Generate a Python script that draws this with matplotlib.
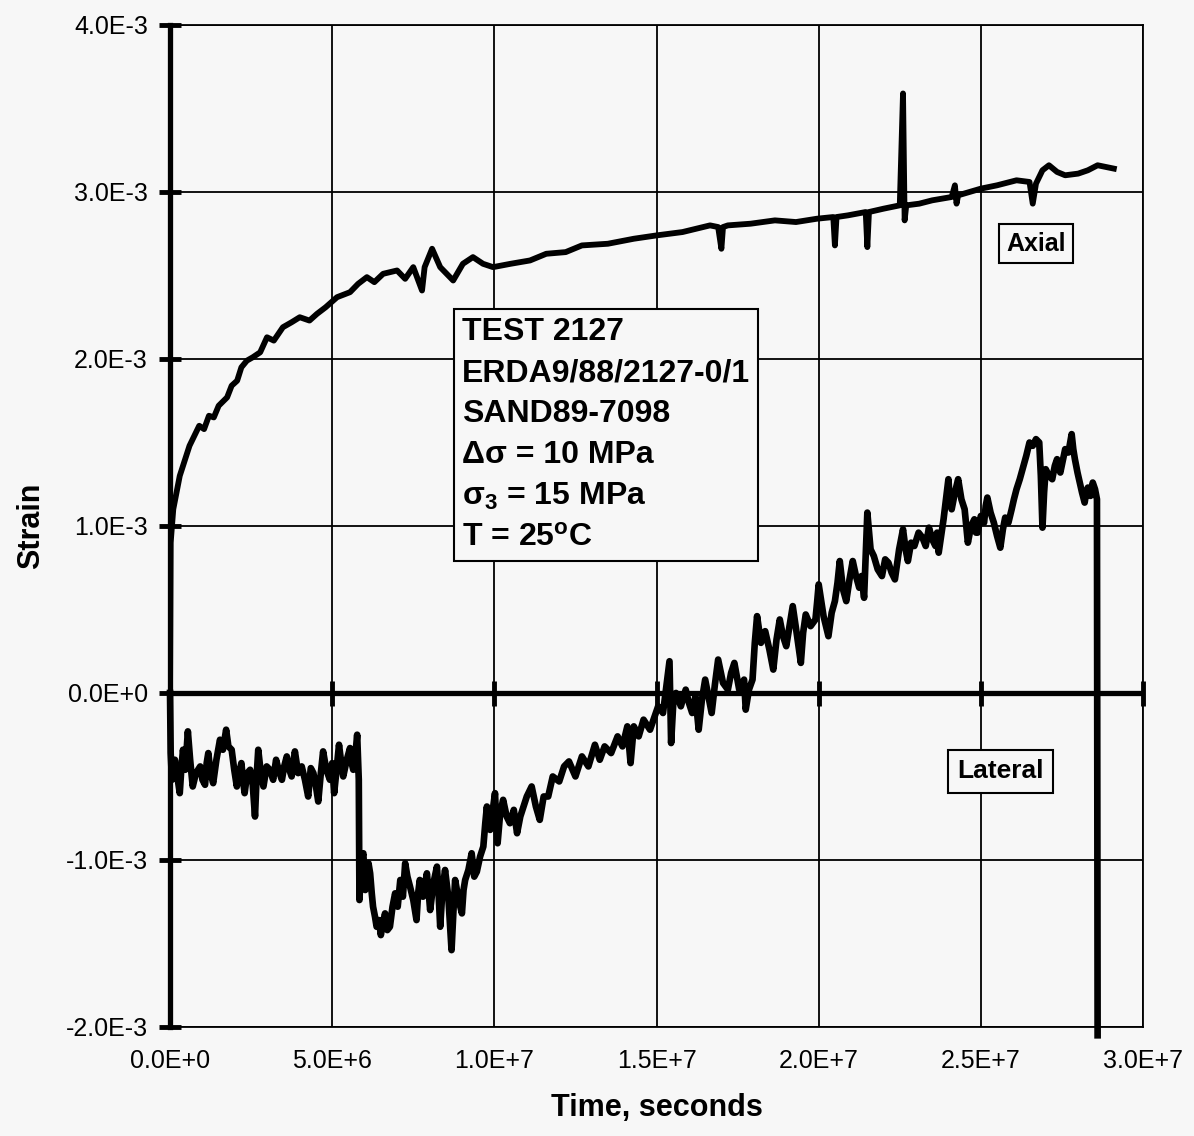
import numpy as np
import matplotlib.pyplot as plt

plt.rcParams['font.family'] = ['Liberation Sans', 'DejaVu Sans']
plt.rcParams['mathtext.fontset'] = 'custom'
plt.rcParams['mathtext.rm'] = 'Liberation Sans:bold'
plt.rcParams['mathtext.it'] = 'Liberation Sans:italic:bold'
plt.rcParams['mathtext.bf'] = 'Liberation Sans:bold'

# axial strain record: (time [1e6 s], strain [1e-3])
axial_pts = [
    (0.0, 0.0), (0.02, 0.90), (0.1, 1.10), (0.3, 1.30), (0.6, 1.48), (0.9, 1.60),
    (1.05, 1.58), (1.2, 1.66), (1.35, 1.65), (1.5, 1.72), (1.76, 1.77), (1.9, 1.84),
    (2.07, 1.87), (2.2, 1.95), (2.37, 1.99), (2.55, 2.01), (2.78, 2.04),
    (2.99, 2.13), (3.2, 2.11), (3.48, 2.19), (3.75, 2.22), (4.0, 2.25), (4.3, 2.23),
    (4.53, 2.27), (4.8, 2.31), (5.15, 2.37), (5.55, 2.40), (5.8, 2.45), (6.07, 2.49),
    (6.3, 2.46), (6.57, 2.51), (7.0, 2.53), (7.25, 2.48), (7.5, 2.55), (7.77, 2.41),
    (7.85, 2.55), (8.08, 2.66), (8.33, 2.55), (8.73, 2.47), (9.03, 2.57), (9.34, 2.61),
    (9.65, 2.57), (9.96, 2.55), (10.5, 2.57), (11.1, 2.59), (11.6, 2.63), (12.2, 2.64),
    (12.7, 2.68), (13.5, 2.69), (14.3, 2.72), (15.0, 2.74), (15.8, 2.76), (16.65, 2.80),
    (16.9, 2.79), (17.0, 2.66), (17.05, 2.79), (17.2, 2.80), (17.9, 2.81), (18.65, 2.83),
    (19.3, 2.82), (19.95, 2.84), (20.45, 2.85), (20.5, 2.68), (20.55, 2.85), (20.9, 2.86),
    (21.45, 2.88), (21.5, 2.67), (21.55, 2.88), (22.0, 2.90), (22.5, 2.92), (22.6, 3.59),
    (22.65, 2.83), (22.7, 2.92), (23.1, 2.93), (23.5, 2.95), (24.1, 2.97), (24.2, 3.04),
    (24.25, 2.93), (24.3, 2.98), (25.0, 3.02), (25.5, 3.04), (26.1, 3.07), (26.5, 3.06),
    (26.6, 2.93), (26.7, 3.05), (26.9, 3.13), (27.1, 3.16), (27.35, 3.12), (27.6, 3.10),
    (28.0, 3.11), (28.3, 3.13), (28.6, 3.16), (29.1, 3.14),
]

# lateral strain record: (time [1e6 s], strain [1e-3])
lateral_pts = [
    (0.0, 0.0), (0.02, -0.36), (0.06, -0.52), (0.15, -0.40), (0.3, -0.60), (0.35, -0.45),
    (0.4, -0.34), (0.47, -0.46), (0.55, -0.23), (0.62, -0.40), (0.7, -0.56), (0.8, -0.48),
    (0.93, -0.44), (1.0, -0.52), (1.08, -0.55), (1.13, -0.42), (1.18, -0.36), (1.25, -0.48),
    (1.33, -0.54), (1.43, -0.40), (1.54, -0.28), (1.63, -0.34), (1.73, -0.22), (1.8, -0.32),
    (1.9, -0.34), (1.98, -0.46), (2.06, -0.56), (2.13, -0.48), (2.2, -0.42), (2.25, -0.52),
    (2.3, -0.60), (2.38, -0.48), (2.47, -0.46), (2.55, -0.55), (2.62, -0.74), (2.67, -0.50),
    (2.72, -0.34), (2.8, -0.48), (2.88, -0.56), (2.98, -0.44), (3.08, -0.46), (3.18, -0.52),
    (3.27, -0.40), (3.36, -0.47), (3.45, -0.52), (3.52, -0.44), (3.6, -0.38), (3.68, -0.46),
    (3.75, -0.50), (3.8, -0.42), (3.85, -0.35), (3.95, -0.48), (4.06, -0.44), (4.16, -0.52),
    (4.26, -0.62), (4.34, -0.45), (4.42, -0.48), (4.5, -0.56), (4.57, -0.65), (4.65, -0.48),
    (4.72, -0.35), (4.82, -0.46), (4.93, -0.52), (5.0, -0.42), (5.06, -0.60), (5.14, -0.45),
    (5.21, -0.31), (5.28, -0.42), (5.34, -0.50), (5.45, -0.40), (5.55, -0.33), (5.6, -0.42),
    (5.65, -0.46), (5.72, -0.36), (5.77, -0.25), (5.82, -0.52), (5.84, -1.24), (5.9, -1.00),
    (5.96, -0.96), (6.02, -1.18), (6.07, -1.12), (6.12, -1.02), (6.17, -1.08), (6.22, -1.20),
    (6.26, -1.28), (6.32, -1.34), (6.37, -1.40), (6.44, -1.36), (6.5, -1.45), (6.56, -1.38),
    (6.63, -1.32), (6.7, -1.42), (6.78, -1.40), (6.86, -1.28), (6.94, -1.20), (7.02, -1.28),
    (7.1, -1.12), (7.18, -1.22), (7.25, -1.02), (7.32, -1.10), (7.4, -1.16), (7.5, -1.24),
    (7.6, -1.36), (7.65, -1.20), (7.7, -1.12), (7.8, -1.22), (7.92, -1.08), (7.97, -1.18),
    (8.02, -1.30), (8.12, -1.14), (8.23, -1.04), (8.28, -1.20), (8.33, -1.40), (8.4, -1.18),
    (8.48, -1.06), (8.58, -1.22), (8.68, -1.54), (8.74, -1.30), (8.79, -1.12), (8.9, -1.24),
    (9.0, -1.32), (9.05, -1.18), (9.1, -1.12), (9.2, -1.06), (9.3, -0.96), (9.38, -1.10),
    (9.46, -1.07), (9.56, -0.98), (9.66, -0.92), (9.72, -0.78), (9.77, -0.68), (9.82, -0.80),
    (9.87, -0.82), (9.95, -0.70), (10.02, -0.60), (10.06, -0.78), (10.1, -0.90), (10.18, -0.72),
    (10.27, -0.64), (10.38, -0.74), (10.48, -0.78), (10.6, -0.70), (10.7, -0.84), (10.8, -0.74),
    (10.9, -0.68), (11.0, -0.62), (11.15, -0.56), (11.28, -0.68), (11.4, -0.76), (11.52, -0.62),
    (11.66, -0.62), (11.8, -0.50), (12.0, -0.53), (12.15, -0.44), (12.3, -0.41), (12.5, -0.50),
    (12.7, -0.38), (12.9, -0.44), (13.1, -0.31), (13.25, -0.40), (13.4, -0.32), (13.6, -0.36),
    (13.8, -0.26), (13.95, -0.32), (14.1, -0.20), (14.2, -0.42), (14.3, -0.20), (14.45, -0.26),
    (14.6, -0.16), (14.8, -0.22), (15.05, -0.08), (15.2, -0.12), (15.4, 0.19), (15.45, -0.30),
    (15.52, -0.05), (15.6, 0.00), (15.75, -0.08), (15.9, 0.02), (16.0, -0.06), (16.1, -0.12),
    (16.2, -0.02), (16.3, -0.22), (16.4, -0.04), (16.5, 0.08), (16.6, -0.02), (16.7, -0.12),
    (16.8, 0.05), (16.9, 0.20), (17.05, 0.06), (17.2, 0.02), (17.3, 0.12), (17.4, 0.18),
    (17.55, 0.02), (17.7, 0.08), (17.75, -0.10), (17.85, 0.02), (17.96, 0.08), (18.03, 0.30),
    (18.1, 0.46), (18.22, 0.30), (18.35, 0.37), (18.48, 0.26), (18.6, 0.14), (18.7, 0.32),
    (18.8, 0.44), (18.9, 0.34), (19.0, 0.28), (19.1, 0.40), (19.2, 0.52), (19.32, 0.36),
    (19.45, 0.18), (19.52, 0.36), (19.6, 0.47), (19.75, 0.40), (19.9, 0.44), (19.95, 0.54),
    (20.0, 0.65), (20.15, 0.46), (20.3, 0.34), (20.4, 0.48), (20.5, 0.55), (20.58, 0.66),
    (20.65, 0.79), (20.75, 0.62), (20.85, 0.55), (20.95, 0.68), (21.05, 0.79), (21.15, 0.70),
    (21.25, 0.63), (21.32, 0.70), (21.4, 0.57), (21.5, 1.08), (21.6, 0.86), (21.7, 0.82),
    (21.82, 0.74), (21.95, 0.70), (22.05, 0.80), (22.15, 0.78), (22.25, 0.72), (22.35, 0.68),
    (22.48, 0.86), (22.6, 0.98), (22.68, 0.86), (22.75, 0.79), (22.85, 0.90), (22.95, 0.88),
    (23.08, 0.96), (23.2, 0.93), (23.3, 0.88), (23.4, 0.99), (23.5, 0.92), (23.6, 0.88),
    (23.65, 0.96), (23.7, 0.84), (23.85, 1.04), (24.0, 1.28), (24.05, 1.14), (24.1, 1.10),
    (24.2, 1.20), (24.3, 1.28), (24.4, 1.16), (24.5, 1.10), (24.55, 1.00), (24.6, 0.90),
    (24.7, 1.00), (24.8, 1.04), (24.85, 0.96), (24.9, 0.96), (25.0, 1.06), (25.1, 1.02),
    (25.15, 1.12), (25.2, 1.17), (25.3, 1.08), (25.4, 1.02), (25.5, 0.94), (25.6, 0.87),
    (25.68, 0.98), (25.75, 1.05), (25.85, 1.02), (25.95, 1.10), (26.02, 1.16), (26.1, 1.22),
    (26.2, 1.28), (26.3, 1.35), (26.4, 1.42), (26.5, 1.50), (26.6, 1.48), (26.7, 1.52),
    (26.8, 1.50), (26.85, 1.30), (26.9, 0.99), (26.95, 1.20), (27.0, 1.34), (27.1, 1.30),
    (27.2, 1.28), (27.28, 1.36), (27.35, 1.40), (27.45, 1.32), (27.6, 1.46), (27.7, 1.44),
    (27.8, 1.55), (27.85, 1.46), (27.9, 1.40), (27.98, 1.32), (28.05, 1.26), (28.12, 1.20),
    (28.2, 1.14), (28.25, 1.20), (28.3, 1.23), (28.38, 1.18), (28.45, 1.26), (28.52, 1.22),
    (28.58, 1.16), (28.6, -2.05),
]

xticks = [0, 5e6, 1e7, 1.5e7, 2e7, 2.5e7, 3e7]
xtick_labels = ['0.0E+0', '5.0E+6', '1.0E+7', '1.5E+7', '2.0E+7', '2.5E+7', '3.0E+7']
yticks = [-2e-3, -1e-3, 0, 1e-3, 2e-3, 3e-3, 4e-3]
ytick_labels = ['-2.0E-3', '-1.0E-3', '0.0E+0', '1.0E-3', '2.0E-3', '3.0E-3', '4.0E-3']

info_lines = ['TEST 2127', 'ERDA9/88/2127-0/1', 'SAND89-7098',
              '\u0394\u03c3 = 10 MPa', '\u03c3$_3$ = 15 MPa', 'T = 25$^{\\mathrm{o}}$C']

bg = '#f7f7f7'
fig = plt.figure(figsize=(11.94, 11.36), dpi=100, facecolor=bg)
ax = fig.add_axes([0.1424, 0.0960, 0.8149, 0.882], facecolor=bg)

axial = np.array(axial_pts)
lateral = np.array(lateral_pts)
t_ax, e_ax = axial[:, 0] * 1e6, axial[:, 1] * 1e-3
t_lat, e_lat = lateral[:, 0] * 1e6, lateral[:, 1] * 1e-3

ax.set_xlim(0, 3e7)
ax.set_ylim(-2e-3, 4e-3)
ax.set_xticks(xticks)
ax.set_xticklabels(xtick_labels)
ax.set_yticks(yticks)
ax.set_yticklabels(ytick_labels)
ax.tick_params(axis='x', length=0, pad=16, labelsize=18)
ax.tick_params(axis='y', direction='inout', length=16, width=3.5, pad=8, labelsize=18)

ax.grid(True, color='black', lw=1.3)
for side in ['top', 'right', 'bottom']:
    ax.spines[side].set_linewidth(1.3)
ax.spines['left'].set_linewidth(3.8)
ax.spines['left'].set_zorder(5)

# x axis drawn through zero strain, with tick blobs
ax.axhline(0, color='black', lw=3.8, zorder=4)
ax.plot(xticks[1:], [0] * (len(xticks) - 1), ls='none', marker='|', ms=18, mew=3.5,
        color='black', zorder=4, clip_on=False)

ax.plot(t_ax, e_ax, color='black', lw=4.2, solid_joinstyle='round', zorder=3)
ax.plot(t_lat, e_lat, color='black', lw=4.8, solid_joinstyle='round', zorder=3,
        clip_on=False)

ax.text(9.0e6, 2.25e-3, '\n'.join(info_lines), fontsize=23, fontweight='bold',
        ha='left', va='top', linespacing=1.47, zorder=6,
        bbox=dict(boxstyle='square,pad=0.25', fc=bg, ec='black', lw=1.5))
ax.text(2.67e7, 2.69e-3, 'Axial', fontsize=18, fontweight='bold', ha='center',
        va='center', zorder=6,
        bbox=dict(boxstyle='square,pad=0.3', fc=bg, ec='black', lw=1.5))
ax.text(2.56e7, -0.47e-3, 'Lateral', fontsize=19, fontweight='bold', ha='center',
        va='center', zorder=6,
        bbox=dict(boxstyle='square,pad=0.35', fc=bg, ec='black', lw=1.5))

ax.set_xlabel('Time, seconds', fontsize=22, fontweight='bold', labelpad=14)
ax.set_ylabel('Strain', fontsize=22, fontweight='bold')
ax.yaxis.set_label_coords(-0.127, 0.5)

fig.savefig('out.png', dpi=100, facecolor=bg)
